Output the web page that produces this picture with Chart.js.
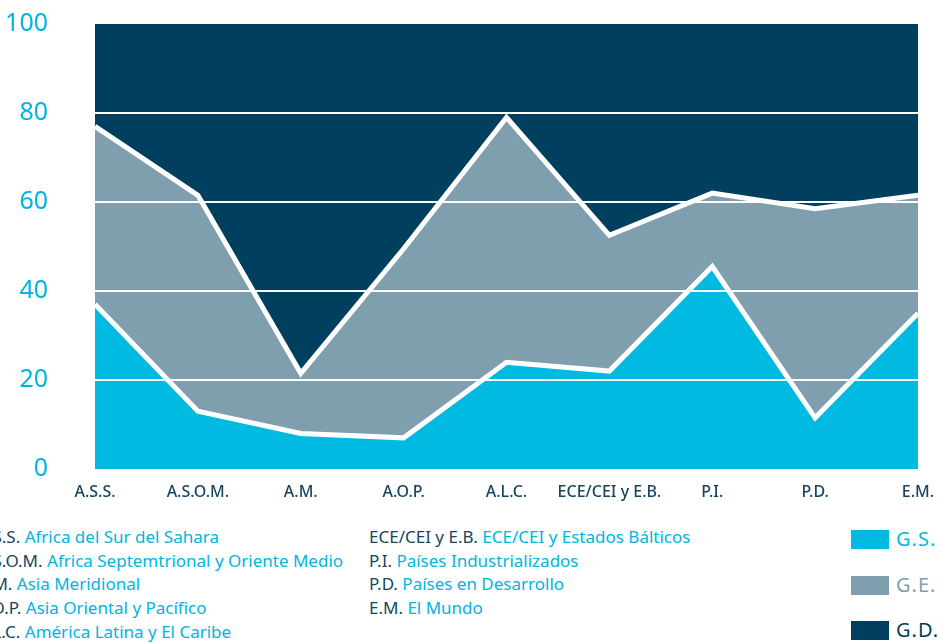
<!DOCTYPE html>
<html>
<head>
<meta charset="utf-8">
<script src="https://cdn.jsdelivr.net/npm/chart.js@4.4.1/dist/chart.umd.min.js"></script>
<style>
  html, body { margin: 0; padding: 0; background: #fff; }
  body { width: 943px; height: 643px; position: relative; overflow: hidden; font-family: "Noto Sans", sans-serif; }
  #wrap { position: absolute; left: 0; top: 0; width: 943px; height: 510px; }
  .col { position: absolute; font-size: 17px; line-height: 23.7px; white-space: nowrap; }
  .ab { color: #17455f; }
  .ds { color: #00b5e0; }
  .key { position: absolute; left: 851px; width: 38px; height: 19px; }
  .kt { position: absolute; left: 896px; font-size: 20px; letter-spacing: 1px; line-height: 20px; }
</style>
</head>
<body>
<div id="wrap"><canvas id="chart"></canvas></div>
<div class="col" id="colA" style="left:-23px; top:525px;"></div>
<div class="col" id="colB" style="left:369px; top:525px;"></div>
<div id="keys"></div>
<script>
const categories = ['A.S.S.', 'A.S.O.M.', 'A.M.', 'A.O.P.', 'A.L.C.', 'ECE/CEI y E.B.', 'P.I.', 'P.D.', 'E.M.'];
const descriptions = [
  'Africa del Sur del Sahara',
  'Africa Septemtrional y Oriente Medio',
  'Asia Meridional',
  'Asia Oriental y Pacífico',
  'América Latina y El Caribe',
  'ECE/CEI y Estados Bálticos',
  'Países Industrializados',
  'Países en Desarrollo',
  'El Mundo'
];
const gsValues = [37, 13, 8, 7, 24, 22, 45.5, 11.5, 35];
const geValues = [40, 48.5, 13.5, 42.5, 55, 30.5, 16.5, 47, 26.5];
const gdValues = [23, 38.5, 78.5, 50.5, 21, 47.5, 38, 41.5, 38.5];
const yTicks = [0, 20, 40, 60, 80, 100];
const seriesNames = ['G.S.', 'G.E.', 'G.D.'];
const seriesColors = ['#00bae2', '#809fae', '#013f5e'];

// legend text columns
const colA = document.getElementById('colA');
const colB = document.getElementById('colB');
categories.forEach((c, i) => {
  const row = `<div><span class="ab">${c}</span> <span class="ds">${descriptions[i]}</span></div>`;
  if (i < 5) colA.innerHTML += row; else colB.innerHTML += row;
});
const keys = document.getElementById('keys');
const keyTops = [530, 576, 621];
seriesNames.forEach((n, i) => {
  keys.innerHTML += `<div class="key" style="top:${keyTops[i]}px;background:${seriesColors[i]}"></div>` +
    `<div class="kt" style="top:${keyTops[i] - 1}px;color:${seriesColors[i]}">${n}</div>`;
});

// white grid lines drawn above the fills, below the boundary lines
const gridOnTop = {
  id: 'gridOnTop',
  beforeDatasetsDraw(chart) {
    const { ctx, chartArea, scales } = chart;
    ctx.save();
    ctx.strokeStyle = '#ffffff';
    ctx.lineWidth = 2;
    yTicks.forEach(t => {
      if (t === 0 || t === 100) return;
      const y = Math.round(scales.y.getPixelForValue(t));
      ctx.beginPath();
      ctx.moveTo(chartArea.left, y);
      ctx.lineTo(chartArea.right, y);
      ctx.stroke();
    });
    ctx.restore();
  }
};

const line = (label, data, color, border) => ({
  label,
  data,
  backgroundColor: color,
  borderColor: '#ffffff',
  borderWidth: border,
  borderJoinStyle: 'miter',
  pointRadius: 0,
  tension: 0,
  fill: label === 'G.S.' ? 'origin' : '-1'
});

new Chart(document.getElementById('chart'), {
  type: 'line',
  data: {
    labels: categories,
    datasets: [
      line('G.S.', gsValues, seriesColors[0], 5),
      line('G.E.', geValues, seriesColors[1], 5),
      line('G.D.', gdValues, seriesColors[2], 0)
    ]
  },
  options: {
    responsive: true,
    maintainAspectRatio: false,
    animation: false,
    layout: { padding: { top: 24, right: 25, left: 0, bottom: 0 } },
    plugins: {
      legend: { display: false },
      tooltip: { enabled: false },
      filler: { drawTime: 'beforeDatasetsDraw' }
    },
    scales: {
      x: {
        offset: false,
        grid: { display: false, drawTicks: false },
        border: { display: false },
        ticks: {
          color: '#17455f',
          font: { family: 'Noto Sans', size: 16, weight: '500' },
          padding: 14,
          maxRotation: 0,
          autoSkip: false
        },
        afterFit: (s) => {
          s.height = 41;
          s.paddingLeft = 0;
          s.paddingRight = 0;
        }
      },
      y: {
        stacked: true,
        min: 0,
        max: 100,
        grid: { display: false, drawTicks: false },
        border: { display: false },
        ticks: {
          stepSize: 20,
          color: '#00b5e0',
          font: { family: 'Noto Sans', size: 25 },
          padding: 47
        },
        afterFit: (s) => {
          s.width = 95;
          s.paddingTop = 0;
          s.paddingBottom = 0;
        }
      }
    }
  },
  plugins: [gridOnTop]
});
</script>
</body>
</html>
